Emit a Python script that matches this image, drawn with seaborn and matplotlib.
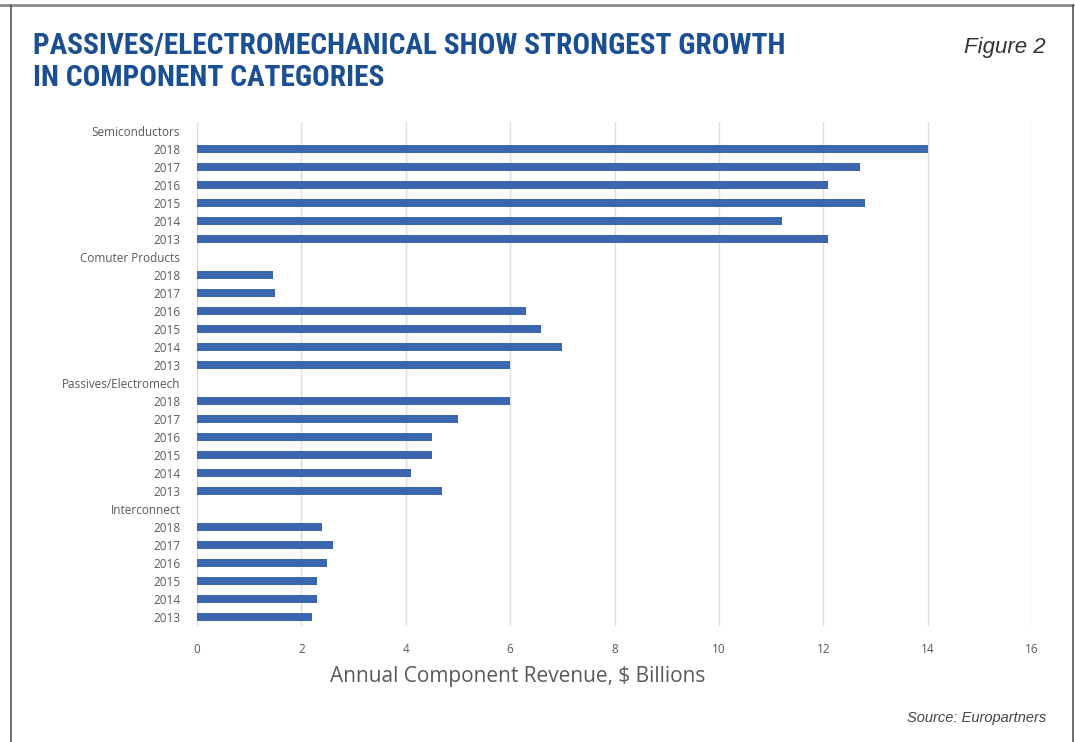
import matplotlib
matplotlib.use("Agg")
import matplotlib.pyplot as plt
import seaborn as sns
import pandas as pd
from matplotlib.lines import Line2D

categories = ["Semiconductors", "Comuter Products", "Passives/Electromech", "Interconnect"]
years = ["2018", "2017", "2016", "2015", "2014", "2013"]
semiconductors = [14.0, 12.7, 12.1, 12.8, 11.2, 12.1]
computer_products = [1.45, 1.5, 6.3, 6.6, 7.0, 6.0]
passives = [6.0, 5.0, 4.5, 4.5, 4.1, 4.7]
interconnect = [2.4, 2.6, 2.5, 2.3, 2.3, 2.2]
x_ticks = [0, 2, 4, 6, 8, 10, 12, 14, 16]

series = [semiconductors, computer_products, passives, interconnect]

rows = []
order = []
tick_labels = []
for cat, vals in zip(categories, series):
    order.append(cat + "|")
    tick_labels.append(cat)
    for y, v in zip(years, vals):
        key = cat + "|" + y
        order.append(key)
        tick_labels.append(y)
        rows.append({"key": key, "value": v})
df = pd.DataFrame(rows)

sns.set_theme(style="white")
plt.rcParams['font.family'] = ['Open Sans', 'DejaVu Sans']

fig = plt.figure(figsize=(10.75, 7.42), dpi=100)
W, H = 1075, 742
ax = fig.add_axes([197 / W, 1 - 626 / H, (1032 - 197) / W, (626 - 122) / H])

sns.barplot(data=df, x="value", y="key", order=order, orient="h",
            color="#3B67B0", saturation=1, width=0.4, ax=ax, errorbar=None,
            linewidth=0)

ax.set_xlim(0, 16)
ax.set_ylim(len(order) - 0.5, -0.5)
ax.set_xticks(x_ticks)
ax.set_xticklabels([str(t) for t in x_ticks])
ax.set_yticks(range(len(order)))
ax.set_yticklabels(tick_labels)
ax.tick_params(axis="both", length=0, labelsize=8.5, labelcolor="#595959")
ax.tick_params(axis="y", pad=12)
ax.tick_params(axis="x", pad=12)
ax.grid(axis="x", color="#dedede", linewidth=1)
ax.set_axisbelow(True)
for s in ax.spines.values():
    s.set_visible(False)
ax.set_ylabel("")
ax.set_xlabel("Annual Component Revenue, $ Billions", fontsize=15, color="#595959")
ax.xaxis.set_label_coords((518 - 197) / (1032 - 197), -(666 - 626) / (626 - 122))

# frame
fig.add_artist(Line2D([0, 1073 / W], [1 - 5 / H, 1 - 5 / H], transform=fig.transFigure, color="#8a8a8a", lw=2))
fig.add_artist(Line2D([11 / W, 11 / W], [0, 1 - 5 / H], transform=fig.transFigure, color="#555555", lw=1.2))
fig.add_artist(Line2D([1073 / W, 1073 / W], [0, 1 - 5 / H], transform=fig.transFigure, color="#555555", lw=1.2))

title_family = ["Roboto Condensed", "Roboto", "DejaVu Sans"]
fig.text(33 / W, 1 - 46 / H, "PASSIVES/ELECTROMECHANICAL SHOW STRONGEST GROWTH",
         fontsize=21.2, fontweight="bold", color="#1B4F93", va="center", ha="left",
         family=title_family)
fig.text(33 / W, 1 - 78 / H, "IN COMPONENT CATEGORIES",
         fontsize=21.2, fontweight="bold", color="#1B4F93", va="center", ha="left",
         family=title_family)
fig.text(1046 / W, 1 - 47 / H, "Figure 2", fontsize=16, style="italic", color="#333333",
         va="center", ha="right", family=["Liberation Sans", "DejaVu Sans"])
fig.text(1046 / W, 1 - 718 / H, "Source: Europartners", fontsize=10.5, style="italic",
         color="#444444", va="center", ha="right", family=["Liberation Sans", "DejaVu Sans"])

fig.savefig("out.png", dpi=100)
